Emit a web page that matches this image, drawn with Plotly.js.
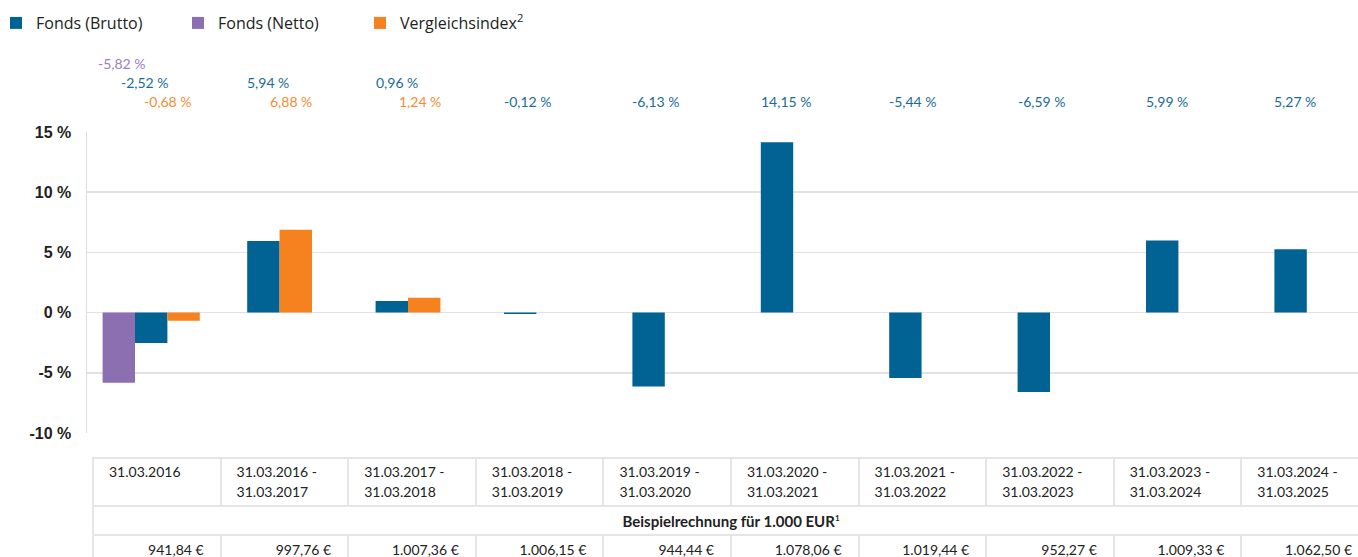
<!DOCTYPE html>
<html>
<head>
<meta charset="utf-8">
<script src="https://cdn.plot.ly/plotly-3.0.1.min.js"></script>
<style>
  html, body { margin: 0; padding: 0; background: #fff; overflow: hidden; width: 1358px; height: 557px; }
  #chart { position: absolute; left: 0; top: 0; }
  #tbl { position: absolute; left: 92px; top: 457px; border-collapse: collapse; table-layout: fixed;
         width: 1278px; font-family: Lato, "Open Sans", sans-serif; font-size: 14px; color: #222; }
  #tbl td { border: 2px solid #e5e5e8; box-sizing: border-box; }
  #tbl tr.head td { height: 48px; padding: 3px 8px 0 15px; line-height: 20px; vertical-align: top; text-align: left; }
  #tbl tr.mid td { height: 29px; text-align: center; font-weight: bold; font-size: 15px; }
  #tbl tr.vals td { height: 29px; text-align: right; padding-right: 16px; }
  #tbl sup { font-size: 8px; }
</style>
</head>
<body>
<div id="chart"></div>
<table id="tbl"></table>
<script>
// ---- data ----
const periods = ["31.03.2016", "31.03.2016 - 31.03.2017", "31.03.2017 - 31.03.2018", "31.03.2018 - 31.03.2019",
  "31.03.2019 - 31.03.2020", "31.03.2020 - 31.03.2021", "31.03.2021 - 31.03.2022", "31.03.2022 - 31.03.2023",
  "31.03.2023 - 31.03.2024", "31.03.2024 - 31.03.2025"];
const fondsBrutto = [-2.52, 5.94, 0.96, -0.12, -6.13, 14.15, -5.44, -6.59, 5.99, 5.27];
const fondsNetto = [-5.82, null, null, null, null, null, null, null, null, null];
const vergleichsindex = [-0.68, 6.88, 1.24, null, null, null, null, null, null, null];
const beispielrechnung = [941.84, 997.76, 1007.36, 1006.15, 944.44, 1078.06, 1019.44, 952.27, 1009.33, 1062.50];
const yTicks = [-10, -5, 0, 5, 10, 15];
const tableCaption = "Beispielrechnung für 1.000 EUR";

// ---- helpers ----
function fmtDe(v, dec) {
  const s = Math.abs(v).toFixed(dec).split('.');
  const int = s[0].replace(/\B(?=(\d{3})+(?!\d))/g, '.');
  return (v < 0 ? '-' : '') + int + (dec ? ',' + s[1] : '');
}

// series in group (left-to-right) order; 'keepSlot' reserves the slot even when empty
const groupOrder = [
  {name: 'Fonds (Netto)', data: fondsNetto, color: '#8b6fb0', label: '#9a80c2', keepSlot: false},
  {name: 'Fonds (Brutto)', data: fondsBrutto, color: '#006394', label: '#1a6b99', keepSlot: true},
  {name: 'Vergleichsindex<sup>2</sup>', data: vergleichsindex, color: '#f5821f', label: '#f58b30', keepSlot: true}
];
const W = 0.2523;
const FULLW = 1380, FULLH = 557;

const offsets = groupOrder.map(() => []);
const annotations = [];
periods.forEach((p, i) => {
  const slots = groupOrder.map((s, k) => k).filter(k => groupOrder[k].keepSlot || groupOrder[k].data[i] !== null);
  const n = slots.length;
  const start = -n * W / 2;
  const adj = n > 2 ? -5 : 0;
  slots.forEach((k, j) => { offsets[k][i] = start + j * W; });
  const labeled = slots.filter(k => groupOrder[k].data[i] !== null);
  labeled.forEach((k, j) => {
    const row = labeled.length - 1 - j;
    annotations.push({
      xref: 'x', yref: 'paper', x: i + start, y: 1,
      xanchor: 'left', yanchor: 'middle',
      xshift: j * 23 + adj - 2, yshift: 31 + row * 19,
      text: fmtDe(groupOrder[k].data[i], 2) + ' %',
      showarrow: false,
      font: {family: 'Lato, sans-serif', size: 14, color: groupOrder[k].label}
    });
  });
  groupOrder.forEach((s, k) => { if (offsets[k][i] === undefined) offsets[k][i] = 0; });
});

const traceFor = k => ({
  type: 'bar', name: groupOrder[k].name, x: periods, y: groupOrder[k].data,
  offset: offsets[k], width: W, marker: {color: groupOrder[k].color},
  hoverinfo: 'skip'
});
const traces = [traceFor(1), traceFor(0), traceFor(2)];

const layout = {
  width: FULLW, height: FULLH, autosize: false,
  margin: {l: 87, r: 9, t: 132, b: 124, pad: 0, autoexpand: false},
  paper_bgcolor: '#fff', plot_bgcolor: '#fff',
  barmode: 'overlay',
  font: {family: 'Lato, sans-serif', color: '#222'},
  showlegend: true,
  legend: {
    orientation: 'h', xref: 'container', yref: 'container',
    x: 0, xanchor: 'left', y: 1 - 23 / FULLH, yanchor: 'middle',
    indentation: -4,
    font: {family: '"Open Sans", sans-serif', size: 16, color: '#222'},
    entrywidth: 141, entrywidthmode: 'pixels', traceorder: 'normal',
    bgcolor: 'rgba(0,0,0,0)'
  },
  xaxis: {
    type: 'category', range: [-0.5, 9.5], showgrid: false, showticklabels: false,
    showline: false, zeroline: false, ticks: '', fixedrange: true, automargin: false
  },
  yaxis: {
    range: [-10, 15], tickvals: yTicks, ticktext: yTicks.map(v => v + ' %'),
    tickfont: {family: 'Liberation Sans, Arial, sans-serif', size: 16, weight: 'bold', color: '#222'},
    showgrid: true, gridcolor: '#e2e2e6', gridwidth: 1.5,
    showline: true, linecolor: '#dcdce0', linewidth: 1.5,
    zeroline: false, ticks: '', ticklabelstandoff: 11, fixedrange: true, automargin: false
  },
  annotations: annotations
};

Plotly.newPlot('chart', traces, layout, {displayModeBar: false, staticPlot: true});

// ---- table ----
const tbl = document.getElementById('tbl');
const head = document.createElement('tr'); head.className = 'head';
periods.forEach(p => {
  const td = document.createElement('td');
  td.innerHTML = p.split(' - ').join(' -<br>');
  head.appendChild(td);
});
const mid = document.createElement('tr'); mid.className = 'mid';
const midTd = document.createElement('td'); midTd.colSpan = periods.length;
midTd.innerHTML = tableCaption + '<sup>1</sup>';
mid.appendChild(midTd);
const vals = document.createElement('tr'); vals.className = 'vals';
beispielrechnung.forEach(v => {
  const td = document.createElement('td');
  td.textContent = fmtDe(v, 2) + ' €';
  vals.appendChild(td);
});
tbl.appendChild(head); tbl.appendChild(mid); tbl.appendChild(vals);
</script>
</body>
</html>
